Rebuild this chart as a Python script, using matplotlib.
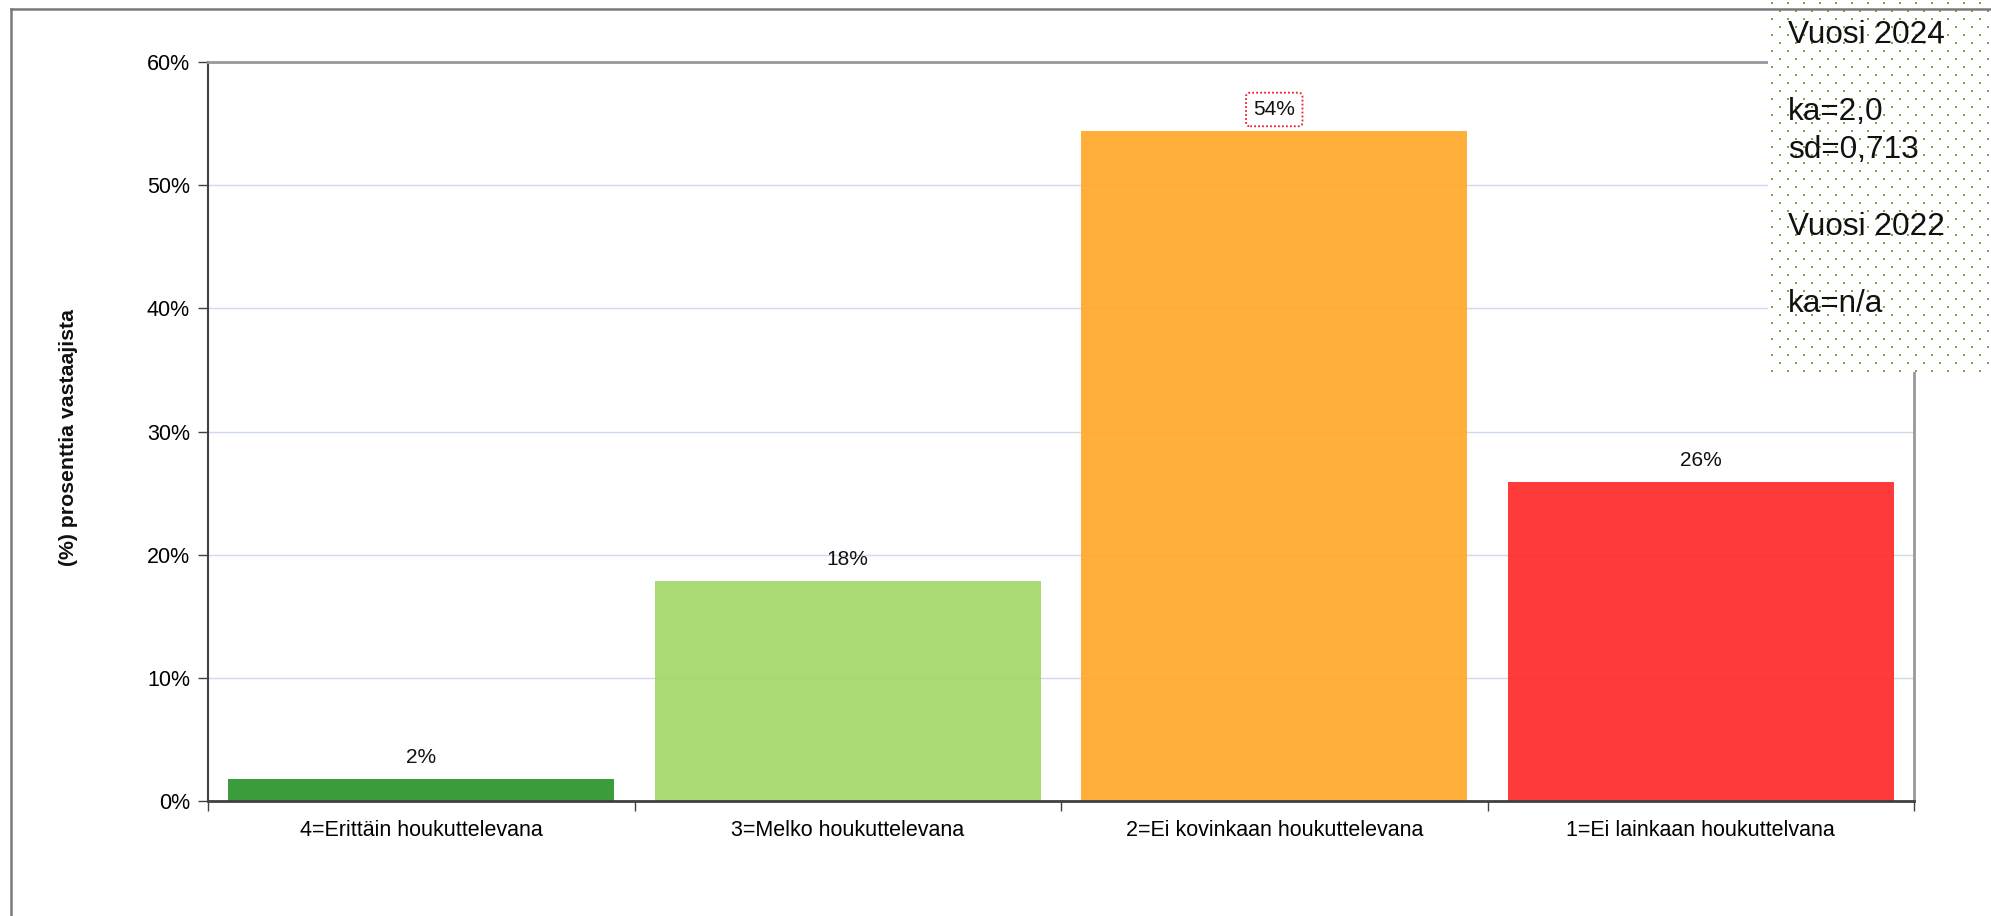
import matplotlib
matplotlib.use("Agg")
import matplotlib.pyplot as plt
import numpy as np

plt.rcParams['font.family'] = ['Liberation Sans', 'DejaVu Sans']

categories = ["4=Erittäin houkuttelevana", "3=Melko houkuttelevana",
              "2=Ei kovinkaan houkuttelevana", "1=Ei lainkaan houkuttelvana"]
values = [1.8, 17.9, 54.4, 25.9]
value_labels = ["2%", "18%", "54%", "26%"]
bar_colors = ["#339933", "#a6d96e", "#ffad33", "#ff3333"]
yticks = [0, 10, 20, 30, 40, 50, 60]
ytick_labels = ["0%", "10%", "20%", "30%", "40%", "50%", "60%"]
ylabel = "(%) prosenttia vastaajista"
box_lines = ["Vuosi 2024", "ka=2,0", "sd=0,713", "Vuosi 2022", "ka=n/a"]
highlight_index = 2

W, H = 1991, 916
fig = plt.figure(figsize=(W / 100, H / 100), dpi=100)

def fx(px):
    return px / W

def fy(py):
    return 1 - py / H

# outer frame lines
fig.add_artist(plt.Line2D([fx(11), fx(11)], [fy(9), 0], color="#7a7a7a", lw=1.8))
fig.add_artist(plt.Line2D([fx(11), 1], [fy(9), fy(9)], color="#7a7a7a", lw=1.8))

ax_l, ax_r, ax_t, ax_b = 208, 1914, 62, 801
ax = fig.add_axes([fx(ax_l), fy(ax_b), fx(ax_r - ax_l), (ax_b - ax_t) / H])

x = np.arange(len(categories))
ax.bar(x, values, width=0.905, color=bar_colors, alpha=0.97, zorder=2)
ax.set_xlim(-0.5, len(categories) - 0.5)
ax.set_ylim(0, 60)
ax.set_yticks(yticks)
ax.set_yticklabels(ytick_labels, fontsize=15.5)
ax.set_xticks(x)
ax.set_xticklabels(categories, fontsize=15.5)
ax.tick_params(axis='x', which='major', length=0, pad=14)
ax.set_xticks(np.arange(-0.5, len(categories), 1.0), minor=True)
ax.tick_params(axis='x', which='minor', length=7, width=1, color="#404040", direction='out')
ax.tick_params(axis='y', length=7, width=1, color="#404040", pad=6)
ax.yaxis.grid(True, color="#ccd9ee", lw=1, zorder=0)
ax.set_axisbelow(True)

for s in ['left', 'bottom']:
    ax.spines[s].set_color("#404040")
ax.spines['left'].set_linewidth(1.5)
ax.spines['bottom'].set_linewidth(2)
for s in ['top', 'right']:
    ax.spines[s].set_color("#999999")
    ax.spines[s].set_linewidth(2)

for i, (v, lab) in enumerate(zip(values, value_labels)):
    kw = {}
    if i == highlight_index:
        kw['bbox'] = dict(boxstyle="round,pad=0.35,rounding_size=0.2", fc="white",
                          ec="#e8202a", ls=(0, (1, 1.2)), lw=1.3)
    ax.annotate(lab, (x[i], v), xytext=(0, 11.5), textcoords='offset points',
                ha='center', va='baseline', fontsize=15, color="#111111", **kw)

fig.text(fx(68), fy(438), ylabel, rotation=90, ha='center', va='center',
         fontsize=15.3, fontweight='bold', color="#111111")

# info box with dotted background
bx0, bx1, by1 = 1768, 1991, 372
bax = fig.add_axes([fx(bx0), fy(by1), fx(bx1 - bx0), by1 / H])
bax.set_xlim(bx0, bx1)
bax.set_ylim(by1, 0)
bax.axis('off')
bax.add_patch(plt.Rectangle((bx0, 0), bx1 - bx0, by1, color='white', zorder=0))
pts_x, pts_y = [], []
for r, yy in enumerate(np.arange(2.7, by1, 8.0)):
    off = 0 if r % 2 == 0 else 8
    for xx in np.arange(bx0 + 3.7 + off, bx1, 16.0):
        pts_x.append(xx)
        pts_y.append(yy)
bax.scatter(pts_x, pts_y, s=2.2, marker='s', color="#70ad47", linewidths=0, zorder=1)
baselines = [43, 120, 158, 235, 312]
for txt, by in zip(box_lines, baselines):
    bax.text(1788, by, txt, ha='left', va='baseline', fontsize=22.7, color="#111111", zorder=3)

fig.savefig("out.png", dpi=100)
